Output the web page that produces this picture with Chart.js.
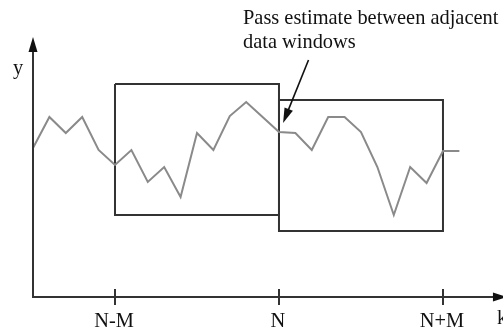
<!DOCTYPE html>
<html lang="en">
<head>
  <meta charset="UTF-8">
  <title>Overlapping data windows</title>
  <script src="https://cdn.jsdelivr.net/npm/chart.js"></script>
  <style>
    body { margin: 0; background: #fff; }
    #wrap { width: 503px; height: 333px; }
  </style>
</head>
<body>
  <div id="wrap"><canvas id="chart"></canvas></div>
  <script>
    // sample index k and measured value y
    const samples = [0, 1, 2, 3, 4, 5, 6, 7, 8, 9, 10, 11, 12, 13, 14, 15, 16, 17, 18, 19, 20, 21, 22, 23, 24, 25, 26]
    const signal = [14.9, 18.0, 16.4, 18.0, 14.7, 13.2, 14.7, 11.5, 13.0, 10.0, 16.4, 14.7, 18.1, 19.5, 18.0, 16.5,
                    16.4, 14.7, 18.0, 18.0, 16.5, 13.0, 8.2, 13.0, 11.4, 14.6, 14.6]

    // the two data windows
    const windowStarts = [5, 15]
    const windowEnds = [15, 25]
    const windowTops = [21.3, 19.7]
    const windowBottoms = [8.2, 6.6]

    // x axis ticks
    const tickValues = [5, 15, 25]
    const tickLabels = ['N-M', 'N', 'N+M']

    // annotation arrow (from tail to tip, in data units)
    const noteText = ['Pass estimate between adjacent', 'data windows']
    const noteArrowTail = [16.8, 23.7]
    const noteArrowTip = [15.25, 17.4]

    const AXIS = '#333'
    const LINE = '#8a8a8a'
    const FONT = '20.4px "Liberation Serif", "DejaVu Serif", serif'

    const arrowHead = (ctx, x0, y0, x1, y1, len, half) => {
      const a = Math.atan2(y1 - y0, x1 - x0)
      ctx.beginPath()
      ctx.moveTo(x1, y1)
      ctx.lineTo(x1 - len * Math.cos(a) + half * Math.sin(a), y1 - len * Math.sin(a) - half * Math.cos(a))
      ctx.lineTo(x1 - len * Math.cos(a) - half * Math.sin(a), y1 - len * Math.sin(a) + half * Math.cos(a))
      ctx.closePath()
      ctx.fill()
    }

    const axesPlugin = {
      id: 'axes',
      afterDatasetsDraw(chart) {
        const ctx = chart.ctx
        const xs = chart.scales.x
        const ys = chart.scales.y
        const x0 = xs.getPixelForValue(0)
        const y0 = ys.getPixelForValue(0)
        const xEnd = xs.getPixelForValue(28.9)
        const yEnd = ys.getPixelForValue(26)
        ctx.save()
        ctx.strokeStyle = AXIS
        ctx.fillStyle = '#111'
        ctx.lineWidth = 2
        // axes
        ctx.beginPath()
        ctx.moveTo(x0, yEnd + 10)
        ctx.lineTo(x0, y0)
        ctx.lineTo(xEnd - 10, y0)
        ctx.stroke()
        arrowHead(ctx, x0, y0, x0, yEnd, 15, 4.5)
        arrowHead(ctx, x0, y0, xEnd, y0, 14, 4.5)
        // ticks + labels
        ctx.font = FONT
        ctx.textAlign = 'center'
        ctx.textBaseline = 'alphabetic'
        tickValues.forEach((v, i) => {
          const px = xs.getPixelForValue(v)
          ctx.beginPath()
          ctx.moveTo(px, y0 - 8)
          ctx.lineTo(px, y0 + 8)
          ctx.stroke()
          ctx.fillText(tickLabels[i], px - 1, y0 + 30)
        })
        ctx.fillText('y', x0 - 15, yEnd + 37)
        ctx.textAlign = 'left'
        ctx.fillText('k', x0 + 464, y0 + 27)
        // annotation
        ctx.fillText(noteText[0], 243, 24)
        ctx.fillText(noteText[1], 243, 48)
        const tx = xs.getPixelForValue(noteArrowTail[0]), ty = ys.getPixelForValue(noteArrowTail[1])
        const hx = xs.getPixelForValue(noteArrowTip[0]), hy = ys.getPixelForValue(noteArrowTip[1])
        ctx.strokeStyle = '#111'
        ctx.lineWidth = 1.6
        ctx.beginPath()
        ctx.moveTo(tx, ty)
        ctx.lineTo(hx + (tx - hx) * 0.2, hy + (ty - hy) * 0.2)
        ctx.stroke()
        arrowHead(ctx, tx, ty, hx, hy, 15, 4.5)
        ctx.restore()
      }
    }

    const windowData = (i) => [
      { x: windowStarts[i], y: windowTops[i] },
      { x: windowEnds[i], y: windowTops[i] },
      { x: windowEnds[i], y: windowBottoms[i] },
      { x: windowStarts[i], y: windowBottoms[i] },
      { x: windowStarts[i], y: windowTops[i] }
    ]

    const datasets = [
      {
        data: samples.map((k, i) => ({ x: k, y: signal[i] })),
        borderColor: LINE,
        borderWidth: 2
      },
      ...windowStarts.map((_, i) => ({
        data: windowData(i),
        borderColor: AXIS,
        borderWidth: 2
      }))
    ]

    new Chart(document.getElementById('chart'), {
      type: 'line',
      data: { datasets },
      options: {
        responsive: true,
        maintainAspectRatio: false,
        animation: false,
        layout: { padding: { left: 33, right: 0, top: 37, bottom: 36 } },
        elements: { point: { radius: 0 }, line: { tension: 0, borderJoinStyle: 'miter' } },
        datasets: { line: { clip: false } },
        scales: {
          x: { type: 'linear', display: false, min: 0, max: 28.66 },
          y: { type: 'linear', display: false, min: 0, max: 26 }
        },
        plugins: { legend: { display: false }, tooltip: { enabled: false } }
      },
      plugins: [axesPlugin]
    })
  </script>
</body>
</html>
